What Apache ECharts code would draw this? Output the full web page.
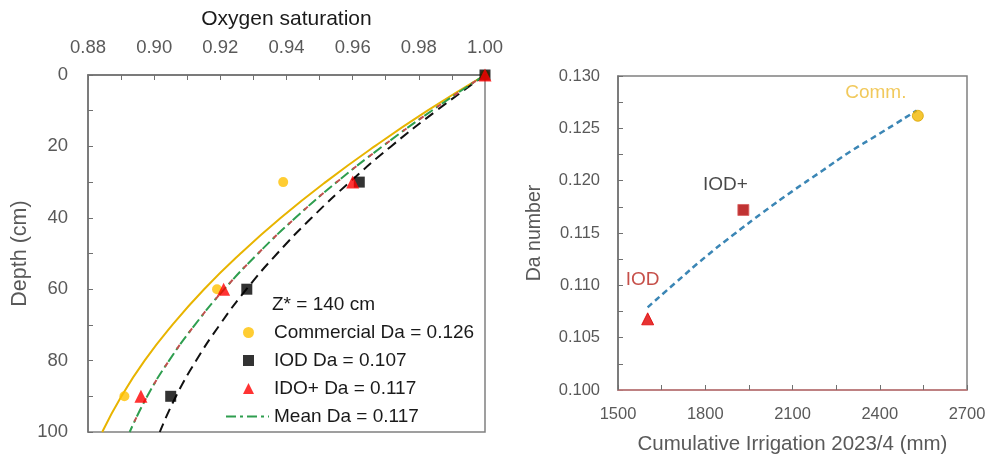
<!DOCTYPE html>
<html>
<head>
<meta charset="utf-8">
<script src="https://cdn.jsdelivr.net/npm/echarts@6/dist/echarts.min.js"></script>
<style>html,body{margin:0;padding:0;background:#fff}#c{width:995px;height:460px}</style>
</head>
<body>
<div id="c"></div>
<script>
// ---------- Left panel: oxygen saturation vs depth ----------
const depthPts = [0, 30, 60, 90];
const commercialPts = [1.000, 0.939, 0.919, 0.891];
const iodPts = [1.000, 0.962, 0.928, 0.905];
const idoPlusPts = [1.000, 0.960, 0.921, 0.896];

const depthCurve = [0, 10, 20, 30, 40, 50, 60, 70, 80, 90, 100];
const commercialCurve = [1.000, 0.9826, 0.9666, 0.9518, 0.9383, 0.9261, 0.9151, 0.9055, 0.8971, 0.8901, 0.8843];
const idoPlusCurve = [1.000, 0.9839, 0.9690, 0.9552, 0.9427, 0.9314, 0.9212, 0.9123, 0.9045, 0.8979, 0.8926];
const meanCurve = [1.000, 0.9839, 0.9690, 0.9552, 0.9427, 0.9314, 0.9212, 0.9123, 0.9045, 0.8979, 0.8926];
const iodCurve = [1.000, 0.9853, 0.9716, 0.9591, 0.9476, 0.9372, 0.9279, 0.9198, 0.9127, 0.9066, 0.9017];

const legendNames = ['Commercial Da = 0.126', 'IOD Da = 0.107', 'IDO+ Da = 0.117', 'Mean Da = 0.117'];
const zStarText = 'Z* = 140 cm';

// ---------- Right panel: Da number vs cumulative irrigation ----------
const treatments = ['IOD', 'IOD+', 'Comm.'];
const irrigation = [1602, 1931, 2531];
const daNumber = [0.1068, 0.1172, 0.1262];

const trendIrrigation = [1602, 1700, 1800, 1900, 2000, 2100, 2200, 2300, 2400, 2527];
const trendDa = [0.1079, 0.1103, 0.1127, 0.1149, 0.1170, 0.1190, 0.1209, 0.1228, 0.1245, 0.1267];

const FONT = 'Liberation Sans';
const GRAY = '#595959';
const pair = (xs, ys) => xs.map((x, i) => [x, ys[i]]);

const chart = echarts.init(document.getElementById('c'), null, {renderer: 'canvas'});

const markStyles = [
  {symbol: 'triangle', symbolSize: 12, color: '#E00000', border: '#E00000', label: '#B8231C', offset: [-5, -39]},
  {symbol: 'rect', symbolSize: 11, color: '#B00000', border: '#D96060', label: '#1a1a1a', offset: [-18, -25]},
  {symbol: 'circle', symbolSize: 11, color: '#F2B800', border: '#D9A400', label: '#EDBB33', offset: [-42, -23]}
];

const legendText = {fontFamily: FONT, fontSize: 19, color: '#1a1a1a', lineHeight: 18};

const option = {
  animation: false,
  textStyle: {fontFamily: FONT},
  grid: [
    {left: 88, top: 75, width: 397, height: 357, show: true, borderColor: '#808080', borderWidth: 1.5, z: 0},
    {left: 618, top: 76, width: 349, height: 317, show: true, borderColor: '#808080', borderWidth: 1.5, z: 0}
  ],
  xAxis: [
    {
      gridIndex: 0, type: 'value', position: 'top', min: 0.88, max: 1.00, interval: 0.01,
      name: 'Oxygen saturation', nameLocation: 'middle', nameGap: 45,
      nameTextStyle: {fontFamily: FONT, fontSize: 21, color: '#1a1a1a'},
      axisLine: {lineStyle: {color: '#707070', width: 1.5}},
      axisTick: {inside: true, length: 5, lineStyle: {color: '#707070'}},
      splitLine: {show: false},
      axisLabel: {
        margin: 18, fontSize: 18.5, color: GRAY, fontFamily: FONT,
        formatter: v => (Math.round(v * 100) % 2 === 0 ? v.toFixed(2) : '')
      }
    },
    {
      gridIndex: 1, type: 'value', min: 1500, max: 2700, interval: 150, z: 3,
      name: 'Cumulative Irrigation 2023/4 (mm)', nameLocation: 'middle', nameGap: 44,
      nameTextStyle: {fontFamily: FONT, fontSize: 20.5, color: GRAY},
      axisLine: {lineStyle: {color: '#C9787A', width: 1.5}},
      axisTick: {inside: true, length: 5, lineStyle: {color: '#707070'}},
      splitLine: {show: false},
      axisLabel: {
        margin: 16, fontSize: 16.5, color: GRAY, fontFamily: FONT,
        formatter: v => (Math.round(v) % 300 === 0 ? String(v) : '')
      }
    }
  ],
  yAxis: [
    {
      gridIndex: 0, type: 'value', inverse: true, min: 0, max: 100, interval: 10,
      name: 'Depth (cm)', nameLocation: 'middle', nameGap: 57,
      nameTextStyle: {fontFamily: FONT, fontSize: 21.5, color: GRAY},
      axisLine: {lineStyle: {color: '#707070', width: 1.5}},
      axisTick: {inside: true, length: 5, lineStyle: {color: '#707070'}},
      splitLine: {show: false},
      axisLabel: {
        margin: 20, fontSize: 18.5, color: GRAY, fontFamily: FONT,
        formatter: v => (Math.round(v) % 20 === 0 ? String(v) : '')
      }
    },
    {
      gridIndex: 1, type: 'value', min: 0.1, max: 0.13, interval: 0.0025,
      name: 'Da number', nameLocation: 'middle', nameGap: 73,
      nameTextStyle: {fontFamily: FONT, fontSize: 19.5, color: GRAY},
      axisLine: {lineStyle: {color: '#707070', width: 1.5}},
      axisTick: {inside: true, length: 5, lineStyle: {color: '#707070'}},
      splitLine: {show: false},
      axisLabel: {
        margin: 18, fontSize: 16.5, color: GRAY, fontFamily: FONT,
        formatter: v => (Math.round(v * 10000) % 50 === 0 ? v.toFixed(3) : '')
      }
    }
  ],
  legend: [
    {
      orient: 'vertical', left: 243, top: 323, padding: 0, itemGap: 9, itemWidth: 11, itemHeight: 11,
      selectedMode: false, symbolKeepAspect: true,
      data: [
        {name: legendNames[0], icon: 'circle'},
        {name: legendNames[1], icon: 'rect'},
        {name: legendNames[2], icon: 'triangle'}
      ],
      textStyle: Object.assign({padding: [0, 0, 0, 15]}, legendText)
    },
    {
      orient: 'vertical', left: 225, top: 407, padding: 0, itemWidth: 43, itemHeight: 11,
      selectedMode: false,
      data: [{name: legendNames[3], itemStyle: {opacity: 0}}],
      textStyle: legendText
    }
  ],
  graphic: [
    {type: 'text', left: 272, top: 295, style: {text: zStarText, font: '19px "Liberation Sans"', fill: '#1a1a1a'}}
  ],
  series: [
    // curves (left)
    {type: 'line', xAxisIndex: 0, yAxisIndex: 0, smooth: true, symbol: 'none', silent: true,
     data: pair(commercialCurve, depthCurve), lineStyle: {color: '#E8B400', width: 2}},
    {type: 'line', xAxisIndex: 0, yAxisIndex: 0, smooth: true, symbol: 'none', silent: true,
     data: pair(iodCurve, depthCurve), lineStyle: {color: '#111', width: 2, type: [10, 6]}},
    {name: legendNames[3], type: 'line', xAxisIndex: 0, yAxisIndex: 0, smooth: true, symbol: 'none', silent: true,
     data: pair(meanCurve, depthCurve), itemStyle: {color: '#2E9E4F'},
     lineStyle: {color: '#2E9E4F', width: 2, type: [10, 4, 3, 4]}},
    {type: 'line', xAxisIndex: 0, yAxisIndex: 0, smooth: true, symbol: 'none', silent: true,
     data: pair(idoPlusCurve, depthCurve), lineStyle: {color: '#C0504D', width: 2, type: [5, 16], dashOffset: -11}},
    // points (left)
    {name: legendNames[0], type: 'scatter', xAxisIndex: 0, yAxisIndex: 0, symbol: 'circle', symbolSize: 10,
     data: pair(commercialPts, depthPts), itemStyle: {color: '#FFC000'}, z: 3},
    {name: legendNames[1], type: 'scatter', xAxisIndex: 0, yAxisIndex: 0, symbol: 'rect', symbolSize: 11,
     data: pair(iodPts, depthPts), itemStyle: {color: '#000'}, z: 4},
    {name: legendNames[2], type: 'scatter', xAxisIndex: 0, yAxisIndex: 0, symbol: 'triangle', symbolSize: 13,
     data: pair(idoPlusPts, depthPts), itemStyle: {color: '#FF0000'}, z: 5},
    // right panel
    {type: 'line', xAxisIndex: 1, yAxisIndex: 1, smooth: true, symbol: 'none', silent: true,
     data: pair(trendIrrigation, trendDa), lineStyle: {color: '#3B86B5', width: 2.5, type: [6, 4]}},
    {type: 'scatter', xAxisIndex: 1, yAxisIndex: 1, z: 5,
     data: irrigation.map((x, i) => ({
       value: [x, daNumber[i]],
       symbol: markStyles[i].symbol,
       symbolSize: markStyles[i].symbolSize,
       itemStyle: {color: markStyles[i].color, borderColor: markStyles[i].border, borderWidth: 1},
       label: {show: true, position: 'inside', offset: markStyles[i].offset, formatter: treatments[i],
               fontFamily: FONT, fontSize: 19, color: markStyles[i].label}
     }))}
  ]
};
chart.setOption(option);
</script>
</body>
</html>
